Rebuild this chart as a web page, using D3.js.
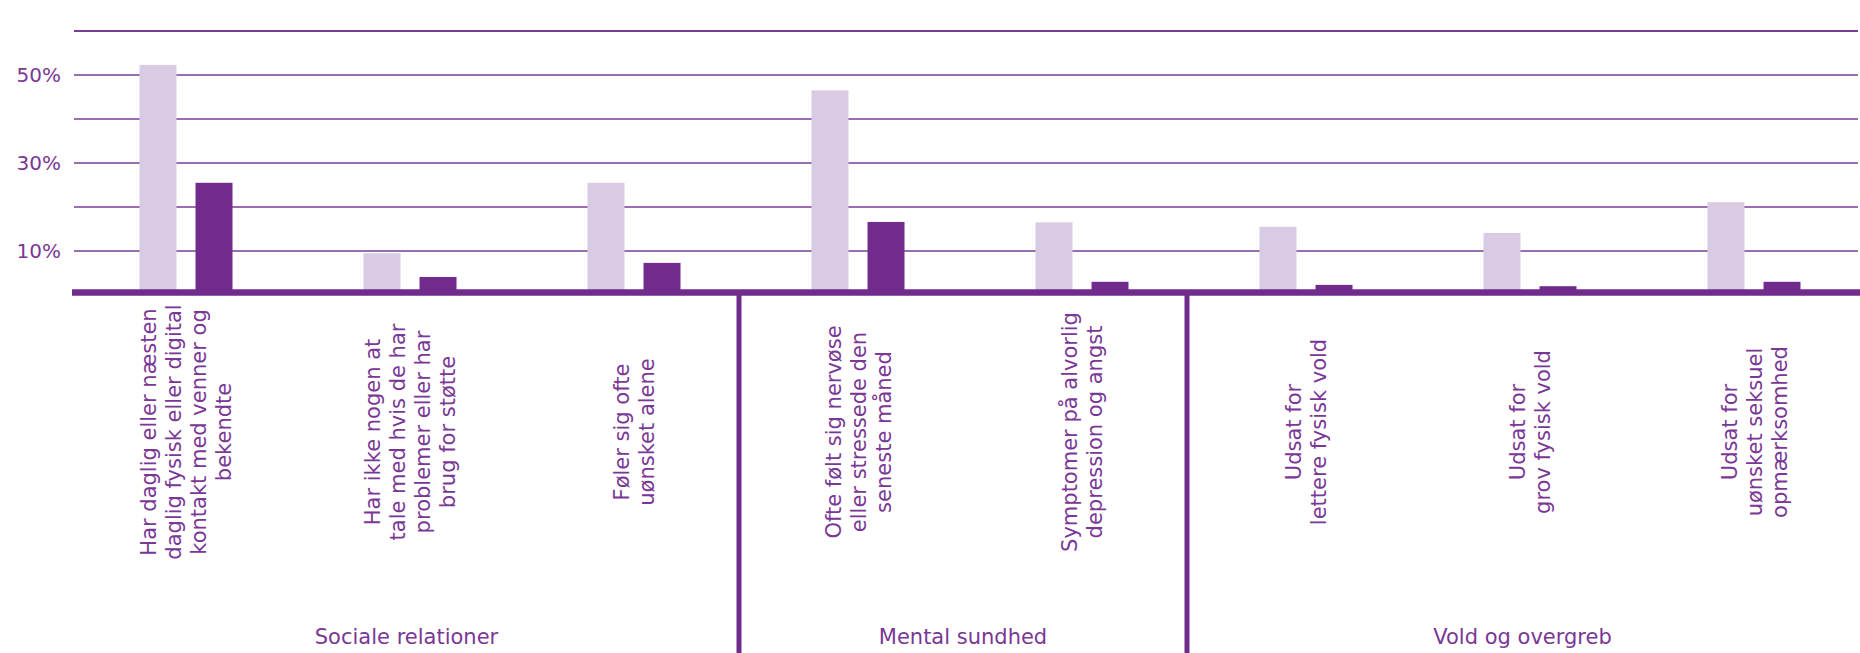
<!DOCTYPE html>
<html>
<head>
<meta charset="utf-8">
<script src="https://cdn.jsdelivr.net/npm/d3@7"></script>
<style>
  html, body { margin: 0; padding: 0; background: #ffffff; }
  svg { display: block; }
  text { font-family: "DejaVu Sans", sans-serif; }
</style>
</head>
<body>
<svg id="chart" width="1860" height="653"></svg>
<script>
// ---- data ----
const categories = [
  ["Har daglig eller næsten", "daglig fysisk eller digital", "kontakt med venner og", "bekendte"],
  ["Har ikke nogen at", "tale med hvis de har", "problemer eller har", "brug for støtte"],
  ["Føler sig ofte", "uønsket alene"],
  ["Ofte følt sig nervøse", "eller stressede den", "seneste måned"],
  ["Symptomer på alvorlig", "depression og angst"],
  ["Udsat for", "lettere fysisk vold"],
  ["Udsat for", "grov fysisk vold"],
  ["Udsat for", "uønsket seksuel", "opmærksomhed"]
];
const seriesNames = ["A", "B"];
const seriesA = [52.3, 9.5, 25.5, 46.5, 16.5, 15.5, 14.1, 21.1];
const seriesB = [25.5, 4.1, 7.3, 16.6, 3.0, 2.3, 2.0, 3.0];
const groups = ["Sociale relationer", "Mental sundhed", "Vold og overgreb"];
const groupSizes = [3, 2, 3];
const gridValues = [10, 20, 30, 40, 50, 60];
const tickValues = [10, 30, 50];
const tickLabels = ["10%", "30%", "50%"];

// ---- layout ----
const W = 1860, H = 653;
const colLight = "#d8cbe3", colDark = "#702b8d", gridCol = "#9b6caf", textCol = "#7a3795";
const svg = d3.select("#chart");

const idx = d3.range(categories.length);
const x = d3.scaleBand().domain(idx).range([74, 1866]).padding(0);
const x1 = d3.scaleBand().domain(seriesNames).range([-46.5, 46.5]).paddingInner(0.34);
const y = d3.scaleLinear().domain([0, 60]).range([295, 31]);

// gridlines
svg.append("g").selectAll("line").data(gridValues).join("line")
  .attr("x1", 74).attr("x2", 1858)
  .attr("y1", d => y(d)).attr("y2", d => y(d))
  .attr("stroke", d => d === 60 ? "#7a3d97" : gridCol)
  .attr("stroke-width", 2);

// y tick labels
svg.append("g").selectAll("text").data(tickValues).join("text")
  .attr("x", 61).attr("y", d => y(d))
  .attr("dy", "0.36em")
  .attr("text-anchor", "end")
  .attr("font-size", 20)
  .attr("fill", textCol)
  .text((d, i) => tickLabels[i]);

// bars
const barData = [];
idx.forEach(i => {
  barData.push({ i, s: "A", v: seriesA[i] });
  barData.push({ i, s: "B", v: seriesB[i] });
});
svg.append("g").selectAll("rect").data(barData).join("rect")
  .attr("x", d => x(d.i) + x.bandwidth() / 2 + x1(d.s))
  .attr("width", x1.bandwidth())
  .attr("y", d => y(d.v))
  .attr("height", d => y(0) - y(d.v))
  .attr("fill", d => d.s === "A" ? colLight : colDark);

// baseline
svg.append("line")
  .attr("x1", 72).attr("x2", 1860)
  .attr("y1", y(0) - 2.5).attr("y2", y(0) - 2.5)
  .attr("stroke", colDark).attr("stroke-width", 6.5);

// dividers between groups
let cum = 0;
const bounds = [74];
groupSizes.forEach((n, gi) => {
  cum += n;
  if (gi < groupSizes.length - 1) bounds.push(x(cum) - 7);
});
bounds.push(1858);
svg.append("g").selectAll("line").data(bounds.slice(1, -1)).join("line")
  .attr("x1", d => d).attr("x2", d => d)
  .attr("y1", y(0) - 3).attr("y2", H)
  .attr("stroke", colDark).attr("stroke-width", 5);

// category labels (rotated)
const labelCenterY = 432, lineH = 25;
const lab = svg.append("g").selectAll("g").data(idx).join("g")
  .attr("transform", i => `translate(${x(i) + x.bandwidth() / 2},${labelCenterY}) rotate(-90)`);
lab.each(function (i) {
  const lines = categories[i];
  const t = d3.select(this).append("text")
    .attr("text-anchor", "middle")
    .attr("font-size", 21)
    .attr("fill", textCol);
  lines.forEach((ln, k) => {
    t.append("tspan").attr("x", 0)
      .attr("y", (k - (lines.length - 1) / 2) * lineH)
      .attr("dy", "0.36em")
      .text(ln);
  });
});

// group labels
svg.append("g").selectAll("text").data(groups).join("text")
  .attr("x", (d, gi) => (bounds[gi] + bounds[gi + 1]) / 2)
  .attr("y", 636)
  .attr("dy", "0.36em")
  .attr("text-anchor", "middle")
  .attr("font-size", 21)
  .attr("fill", textCol)
  .text(d => d);
</script>
</body>
</html>
